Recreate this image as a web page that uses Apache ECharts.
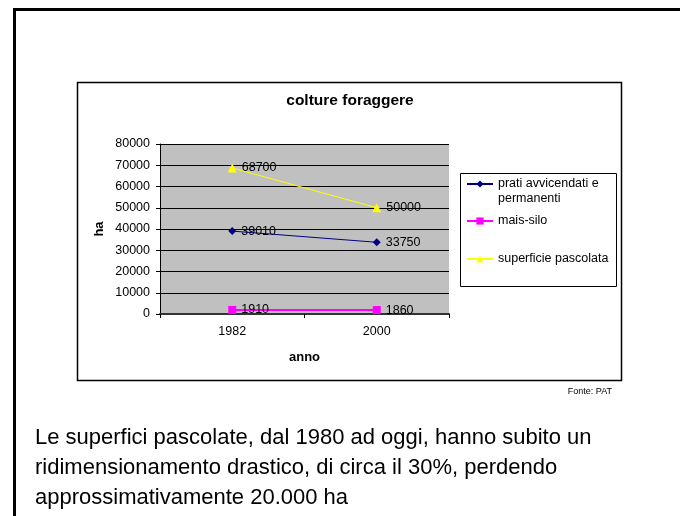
<!DOCTYPE html>
<html>
<head>
<meta charset="utf-8">
<title>colture foraggere</title>
<script src="https://cdn.jsdelivr.net/npm/echarts@6/dist/echarts.min.js"></script>
<style>
html, body { margin: 0; padding: 0; background: #fff; }
#main { width: 680px; height: 516px; }
</style>
</head>
<body>
<div id="main"></div>
<script>
// dati
var anni = ['1982', '2000'];
var prati = [39010, 33750];
var maisSilo = [1910, 1860];
var pascolata = [68700, 50000];
var nomiSerie = ['prati avvicendati e permanenti', 'mais-silo', 'superficie pascolata'];
var tickY = [0, 80000, 10000]; // min, max, passo
var nota = [
    'Le superfici pascolate, dal 1980 ad oggi, hanno subito un',
    'ridimensionamento drastico, di circa il 30%, perdendo',
    'approssimativamente 20.000 ha'
];

var font = '"Liberation Sans", Arial, sans-serif';

function legenda(nome, top, testo) {
    return {
        data: [nome],
        orient: 'vertical',
        left: 466,
        top: top,
        padding: 0,
        itemWidth: 26,
        itemHeight: 9,
        selectedMode: false,
        formatter: function() { return testo; },
        textStyle: {
            color: '#000',
            fontFamily: font,
            fontSize: 12.5,
            lineHeight: 15
        }
    };
}

function serie(nome, dati, colore, simbolo, dim, spessore) {
    return {
        name: nome,
        type: 'line',
        data: dati,
        symbol: simbolo,
        symbolSize: dim,
        showAllSymbol: true,
        lineStyle: { color: colore, width: spessore },
        itemStyle: { color: colore },
        label: {
            show: true,
            position: 'right',
            distance: 5,
            color: '#000',
            fontFamily: font,
            fontSize: 12.5
        },
        emphasis: { disabled: true },
        animation: false
    };
}

var chart = echarts.init(document.getElementById('main'));
chart.setOption({
    animation: false,
    title: {
        text: 'colture foraggere',
        left: 350,
        top: 93,
        textAlign: 'center',
        padding: 0,
        textStyle: { fontFamily: font, fontSize: 15.5, fontWeight: 'bold', color: '#000' }
    },
    legend: [
        // riga vuota in testa: l'icona resta sulla prima riga di testo
        legenda(nomiSerie[0], 161.5, ' \nprati avvicendati e\npermanenti'),
        legenda(nomiSerie[1], 213.5, 'mais-silo'),
        legenda(nomiSerie[2], 251.5, 'superficie pascolata')
    ],
    grid: {
        left: 160,
        top: 144,
        width: 289,
        height: 170,
        show: true,
        backgroundColor: '#c0c0c0',
        borderWidth: 0,
        outerBoundsMode: 'none'
    },
    xAxis: {
        type: 'category',
        data: anni,
        boundaryGap: true,
        name: 'anno',
        nameLocation: 'middle',
        nameGap: 37,
        nameTextStyle: { fontFamily: font, fontSize: 13, fontWeight: 'bold', color: '#000' },
        axisLine: { lineStyle: { color: '#333', width: 2 } },
        axisTick: { show: true, length: 4, alignWithLabel: false, lineStyle: { color: '#000' } },
        axisLabel: { color: '#000', fontFamily: font, fontSize: 12.5, margin: 11 },
        splitLine: { show: false }
    },
    yAxis: {
        type: 'value',
        min: tickY[0],
        max: tickY[1],
        interval: tickY[2],
        name: 'ha',
        nameLocation: 'middle',
        nameGap: 54,
        nameTextStyle: { fontFamily: font, fontSize: 13, fontWeight: 'bold', color: '#000' },
        axisLine: { show: true, lineStyle: { color: '#000', width: 1 } },
        axisTick: { show: true, length: 4, lineStyle: { color: '#000' } },
        axisLabel: {
            color: '#000', fontFamily: font, fontSize: 12.5, margin: 10,
            formatter: function(v) { return String(v); }
        },
        splitLine: { show: true, lineStyle: { color: '#000', width: 1 } }
    },
    series: [
        serie(nomiSerie[0], prati, '#000080', 'diamond', 8, 1),
        serie(nomiSerie[1], maisSilo, '#ff00ff', 'rect', 8, 2),
        serie(nomiSerie[2], pascolata, '#ffff00', 'triangle', 9, 1)
    ],
    graphic: [
        // bordo della slide
        { type: 'rect', shape: { x: 14.5, y: 9.5, width: 720, height: 560 },
          style: { fill: 'none', stroke: '#000', lineWidth: 3 }, silent: true },
        // riquadro del grafico
        { type: 'rect', shape: { x: 77.5, y: 82.5, width: 544, height: 298 },
          style: { fill: 'none', stroke: '#000', lineWidth: 1.5 }, silent: true },
        // riquadro della legenda
        { type: 'rect', shape: { x: 460.5, y: 173.5, width: 156, height: 113 },
          style: { fill: 'none', stroke: '#000', lineWidth: 1 }, silent: true },
        { type: 'text', x: 612, y: 392, silent: true,
          style: { text: 'Fonte: PAT', fill: '#000', font: '9px ' + font,
                   textAlign: 'right', textVerticalAlign: 'middle' } },
        { type: 'text', x: 35, y: 423, silent: true,
          style: { text: nota.join('\n'), fill: '#000', font: '22px ' + font,
                   lineHeight: 30, textAlign: 'left', textVerticalAlign: 'top' } }
    ]
});
</script>
</body>
</html>
